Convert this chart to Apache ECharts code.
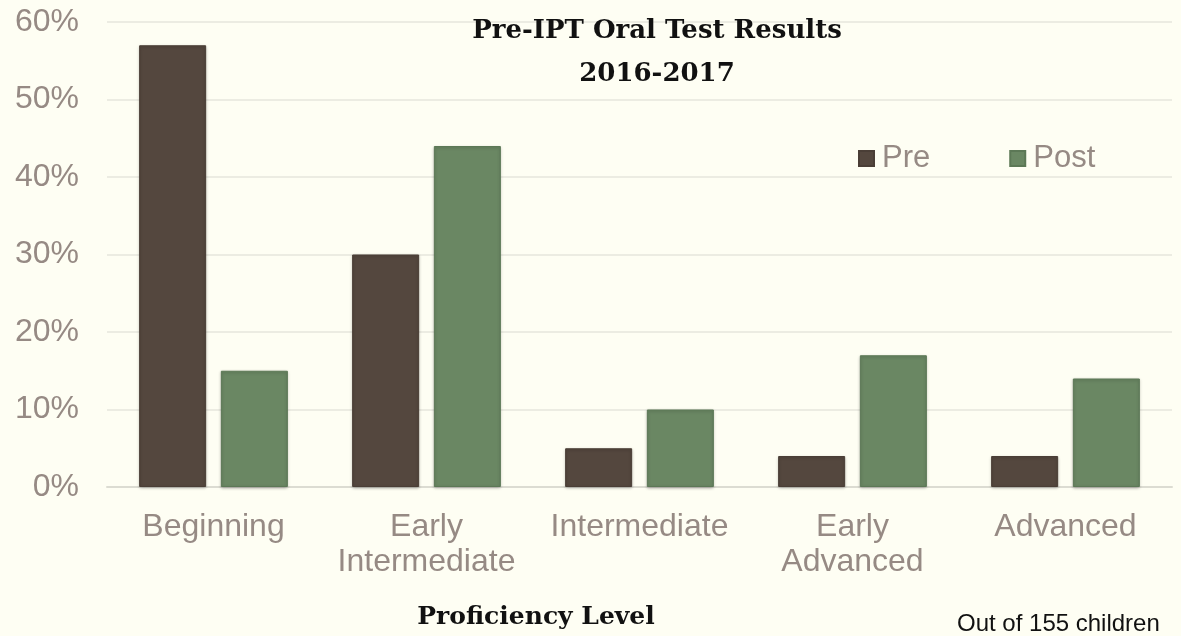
<!DOCTYPE html>
<html><head><meta charset="utf-8">
<script src="https://cdn.jsdelivr.net/npm/echarts@6/dist/echarts.min.js"></script>
<style>html,body{margin:0;padding:0;background:#fefef3;}#c{width:1181px;height:636px;}</style>
</head><body><div id="c"></div>
<script>
var categories = ['Beginning', 'Early\nIntermediate', 'Intermediate', 'Early\nAdvanced', 'Advanced'];
var preValues = [57, 30, 5, 4, 4];
var postValues = [15, 44, 10, 17, 14];
var yTicks = [0, 10, 20, 30, 40, 50, 60];

var chart = echarts.init(document.getElementById('c'));
var textGray = '#968a84';
chart.setOption({
  backgroundColor: '#fefef3',
  animation: false,
  title: [
    {text: 'Pre-IPT Oral Test Results\n2016-2017', left: 652, top: 5, textAlign: 'center',
     textStyle: {fontFamily: 'DejaVu Serif', fontWeight: 'bold', fontSize: 26, color: '#111', lineHeight: 43}},
    {text: 'Proficiency Level', left: 531, top: 600, textAlign: 'center',
     textStyle: {fontFamily: 'DejaVu Serif', fontWeight: 'bold', fontSize: 25, color: '#111'}},
    {text: 'Out of 155 children', left: 952, top: 607,
     textStyle: {fontFamily: 'Liberation Sans', fontWeight: 'normal', fontSize: 24, color: '#111'}}
  ],
  legend: {
    data: ['Pre', 'Post'], left: 853, top: 138, itemWidth: 15, itemHeight: 15, itemGap: 79,
    icon: 'rect',
    textStyle: {fontFamily: 'Liberation Sans', fontSize: 31, color: textGray, padding: [0,0,0,3]}
  },
  grid: {left: 107, right: 9, top: 22, bottom: 149},
  xAxis: {
    type: 'category', data: categories,
    axisLine: {show: true, lineStyle: {color: '#dcdcd2', width: 2}},
    axisTick: {show: false},
    axisLabel: {interval: 0, fontFamily: 'Liberation Sans', fontSize: 32, color: textGray, lineHeight: 35, margin: 23}
  },
  yAxis: {
    type: 'value', min: 0, max: 60, interval: 10,
    axisLine: {show: false}, axisTick: {show: false},
    splitLine: {lineStyle: {color: '#e6e6dc', width: 1.5}},
    axisLabel: {fontFamily: 'Liberation Sans', fontSize: 32, color: textGray, margin: 28,
      formatter: function(v){ return yTicks.indexOf(v) >= 0 ? v + '%' : ''; }}
  },
  series: [
    {name: 'Pre', type: 'bar', data: preValues, barWidth: 67, barGap: '22%',
     itemStyle: {color: '#54473e', borderColor: '#4a3e36', borderWidth: 1,
       shadowColor: 'rgba(0,0,0,0.25)', shadowBlur: 3, shadowOffsetY: 1}},
    {name: 'Post', type: 'bar', data: postValues, barWidth: 67,
     itemStyle: {color: '#6a8763', borderColor: '#5c7856', borderWidth: 1,
       shadowColor: 'rgba(0,0,0,0.25)', shadowBlur: 3, shadowOffsetY: 1}}
  ]
});
</script></body></html>
